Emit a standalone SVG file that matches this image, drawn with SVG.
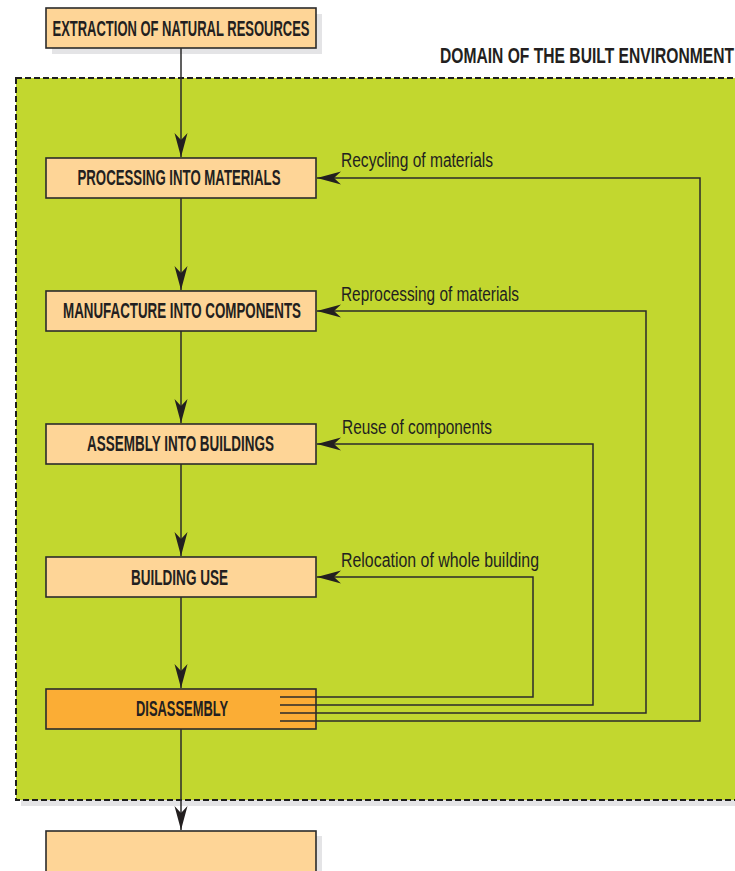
<svg xmlns="http://www.w3.org/2000/svg" width="735" height="871" viewBox="0 0 735 871">
<style>
.shadow{fill:#e4e4e6}
.box{fill:#fed597;stroke:#2b2b2b;stroke-width:1.6}
.boxo{fill:#fbad35;stroke:#2b2b2b;stroke-width:1.6}
.bt{font-family:"Liberation Sans",Arial,sans-serif;font-weight:bold;font-size:22px;fill:#231f20;text-anchor:middle}
.lbl{font-family:"Liberation Sans",Arial,sans-serif;font-size:20px;fill:#231f20}
.ttl{font-family:"Liberation Sans",Arial,sans-serif;font-weight:bold;font-size:22px;fill:#231f20}
.ln{fill:none;stroke:#2b2b2b;stroke-width:1.5}
</style>
<defs>
<marker id="ah" viewBox="-24 -7 25 14" refX="0" refY="0" markerWidth="25" markerHeight="14" markerUnits="userSpaceOnUse" orient="auto">
<path d="M0,0 L-24,-6.5 L-17,0 L-24,6.5 Z" fill="#231f20"/>
</marker>
</defs>
<rect width="735" height="871" fill="#ffffff"/>

<g id="domain">
<rect class="shadow" x="21" y="84" width="730" height="722"/>
<rect x="16" y="78" width="730" height="722" fill="#c2d72f" stroke="#1e1e1e" stroke-width="2" stroke-dasharray="6,3"/>
<text class="ttl" x="440" y="63" textLength="294" lengthAdjust="spacingAndGlyphs">DOMAIN OF THE BUILT ENVIRONMENT</text>
</g>

<g id="extraction">
<rect class="shadow" x="52" y="14" width="270" height="40"/>
<rect class="box" x="46" y="8" width="270" height="40"/>
<text class="bt" x="181" y="36" textLength="257" lengthAdjust="spacingAndGlyphs">EXTRACTION OF NATURAL RESOURCES</text>
</g>

<g id="processing">
<rect class="box" x="46" y="158" width="270" height="40"/>
<text class="bt" x="179" y="185" textLength="203" lengthAdjust="spacingAndGlyphs">PROCESSING INTO MATERIALS</text>
</g>

<g id="manufacture">
<rect class="box" x="46" y="291" width="270" height="40"/>
<text class="bt" x="182" y="318" textLength="238" lengthAdjust="spacingAndGlyphs">MANUFACTURE INTO COMPONENTS</text>
</g>

<g id="assembly">
<rect class="box" x="46" y="424" width="270" height="40"/>
<text class="bt" x="180.5" y="451" textLength="187" lengthAdjust="spacingAndGlyphs">ASSEMBLY INTO BUILDINGS</text>
</g>

<g id="use">
<rect class="box" x="46" y="557" width="270" height="40"/>
<text class="bt" x="179.5" y="585" textLength="97" lengthAdjust="spacingAndGlyphs">BUILDING USE</text>
</g>

<g id="disassembly">
<rect class="boxo" x="46" y="689" width="270" height="40"/>
<text class="bt" x="182" y="716" textLength="92" lengthAdjust="spacingAndGlyphs">DISASSEMBLY</text>
</g>

<g id="end">
<rect class="shadow" x="52" y="836" width="270" height="40"/>
<rect class="box" x="46" y="831" width="270" height="45"/>
</g>

<g id="connectors">
<line class="ln" x1="181" y1="48" x2="181" y2="157" marker-end="url(#ah)"/>
<line class="ln" x1="181" y1="198" x2="181" y2="290" marker-end="url(#ah)"/>
<line class="ln" x1="181" y1="331" x2="181" y2="423" marker-end="url(#ah)"/>
<line class="ln" x1="181" y1="464" x2="181" y2="556" marker-end="url(#ah)"/>
<line class="ln" x1="181" y1="597" x2="181" y2="688" marker-end="url(#ah)"/>
<line class="ln" x1="181" y1="729" x2="181" y2="830" marker-end="url(#ah)"/>

<polyline class="ln" points="280,721 700,721 700,178 317,178" marker-end="url(#ah)"/>
<polyline class="ln" points="280,713 646,713 646,311 317,311" marker-end="url(#ah)"/>
<polyline class="ln" points="280,705 593,705 593,444 317,444" marker-end="url(#ah)"/>
<polyline class="ln" points="280,697 533,697 533,577 317,577" marker-end="url(#ah)"/>

<text class="lbl" x="341" y="167" textLength="152" lengthAdjust="spacingAndGlyphs">Recycling of materials</text>
<text class="lbl" x="341" y="300.5" textLength="178" lengthAdjust="spacingAndGlyphs">Reprocessing of materials</text>
<text class="lbl" x="342" y="433.5" textLength="150" lengthAdjust="spacingAndGlyphs">Reuse of components</text>
<text class="lbl" x="341" y="567" textLength="198" lengthAdjust="spacingAndGlyphs">Relocation of whole building</text>
</g>
</svg>
